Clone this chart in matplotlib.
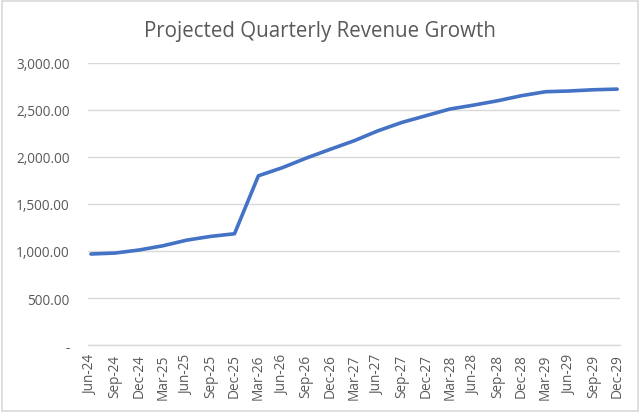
import matplotlib
matplotlib.use("Agg")
import matplotlib.pyplot as plt
from matplotlib.patches import Rectangle

quarters = ["Jun-24", "Sep-24", "Dec-24", "Mar-25", "Jun-25", "Sep-25", "Dec-25",
            "Mar-26", "Jun-26", "Sep-26", "Dec-26", "Mar-27", "Jun-27", "Sep-27",
            "Dec-27", "Mar-28", "Jun-28", "Sep-28", "Dec-28", "Mar-29", "Jun-29",
            "Sep-29", "Dec-29"]
revenue = [968, 978, 1010, 1055, 1115, 1155, 1183,
           1799, 1885, 1987, 2080, 2171, 2277, 2366,
           2437, 2508, 2550, 2596, 2650, 2692, 2700,
           2713, 2720]
y_ticks = [0, 500, 1000, 1500, 2000, 2500, 3000]

plt.rcParams['font.family'] = ['Open Sans', 'DejaVu Sans']

fig = plt.figure(figsize=(6.4, 4.14), dpi=100)
fig.patch.set_facecolor("white")
fig.patches.append(Rectangle((0.003, 0.004), 0.994, 0.992, transform=fig.transFigure,
                             fill=False, edgecolor="#D9D9D9", linewidth=1.2))

ax = fig.add_axes([0.1375, 0.164, 0.8315, 0.682])
x = list(range(len(quarters)))
ax.plot(x, revenue, color="#4472C4", linewidth=2.6, solid_capstyle="round", zorder=3)

ax.set_ylim(0, 3000)
ax.set_xlim(-0.125, len(quarters) - 1 + 0.125)
ax.set_yticks(y_ticks)
ax.set_yticklabels(["-" if v == 0 else f"{v:,.2f}" for v in y_ticks])
ax.set_xticks(x)
ax.set_xticklabels(quarters, rotation=90)

ax.grid(axis="y", color="#D9D9D9", linewidth=1.0)
ax.set_axisbelow(True)
for s in ["top", "right", "left"]:
    ax.spines[s].set_visible(False)
ax.spines["bottom"].set_color("#D9D9D9")
ax.spines["bottom"].set_linewidth(1.0)
ax.tick_params(axis="both", length=0, colors="#595959", labelsize=9.8)
ax.tick_params(axis="y", pad=13)
ax.tick_params(axis="x", pad=6)

fig.text(0.5, 0.925, "Projected Quarterly Revenue Growth", ha="center", va="center",
         fontsize=14.8, color="#595959")

fig.savefig("out.png", dpi=100, facecolor="white")
